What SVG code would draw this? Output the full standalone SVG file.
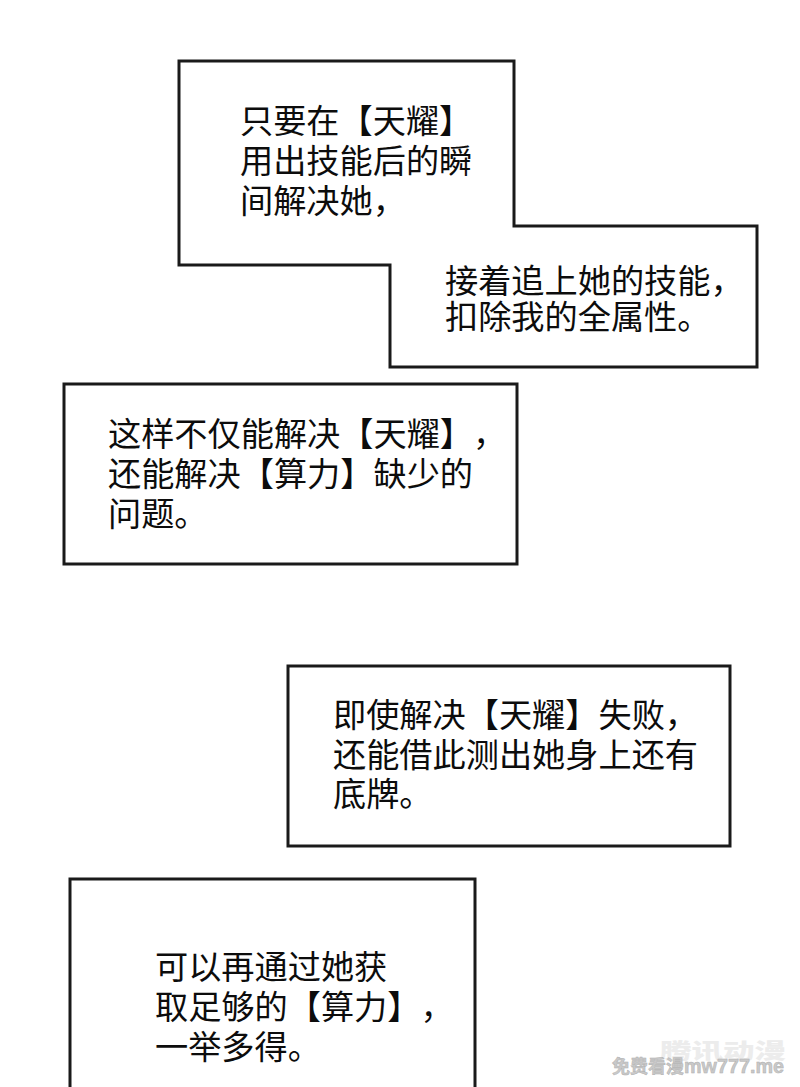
<svg xmlns="http://www.w3.org/2000/svg" width="800" height="1087" viewBox="0 0 800 1087">
<style>
.box{fill:#fff;stroke:#1a1a1a;stroke-width:3}
.t{font-family:"Noto Sans CJK SC","Noto Sans",sans-serif;font-size:33.2px;fill:#0c0c0c;text-spacing-trim:space-all;font-kerning:none;font-feature-settings:"palt" 0,"chws" 0,"halt" 0}
.wm{font-family:"Noto Sans CJK SC","Liberation Sans",sans-serif;font-weight:700;fill:#c9c9c9;stroke:#b0b0b0;stroke-width:.5}
.bg{font-family:"Noto Sans CJK SC",sans-serif;font-weight:900;fill:#ececec}
.lat{font-family:"Liberation Sans",sans-serif;font-weight:700}
</style>
<rect width="800" height="1087" fill="#fff"/>
<g id="node-1">
<path class="box" d="M179 61H514V226H757V367H390V265H179Z"/>
<text class="t" x="240" y="133">只要在【天耀】</text>
<text class="t" x="240" y="173">用出技能后的瞬</text>
<text class="t" x="240" y="213">间解决她，</text>
<text class="t" x="445" y="293">接着追上她的技能，</text>
<text class="t" x="445" y="329">扣除我的全属性。</text>
</g>
<g id="node-2">
<rect class="box" x="64" y="384" width="453" height="180"/>
<text class="t" x="108" y="446">这样不仅能解决【天耀】，</text>
<text class="t" x="108" y="486">还能解决【算力】缺少的</text>
<text class="t" x="108" y="526">问题。</text>
</g>
<g id="node-3">
<rect class="box" x="288" y="666" width="442" height="180"/>
<text class="t" x="333" y="727">即使解决【天耀】失败，</text>
<text class="t" x="333" y="767">还能借此测出她身上还有</text>
<text class="t" x="333" y="806">底牌。</text>
</g>
<g id="node-4">
<path class="box" d="M70 1087V879H475V1087"/>
<text class="t" x="155" y="979">可以再通过她获</text>
<text class="t" x="155" y="1019">取足够的【算力】，</text>
<text class="t" x="155" y="1059">一举多得。</text>
</g>
<g id="connectors"></g>
<g id="watermark">
<text class="bg" x="660" y="1058" font-size="21" textLength="126" lengthAdjust="spacingAndGlyphs">腾讯动漫</text>
<text class="wm" x="612" y="1073" font-size="18">免费看漫<tspan class="lat" font-size="20" textLength="100" lengthAdjust="spacingAndGlyphs">mw777.me</tspan></text>
</g>
</svg>
